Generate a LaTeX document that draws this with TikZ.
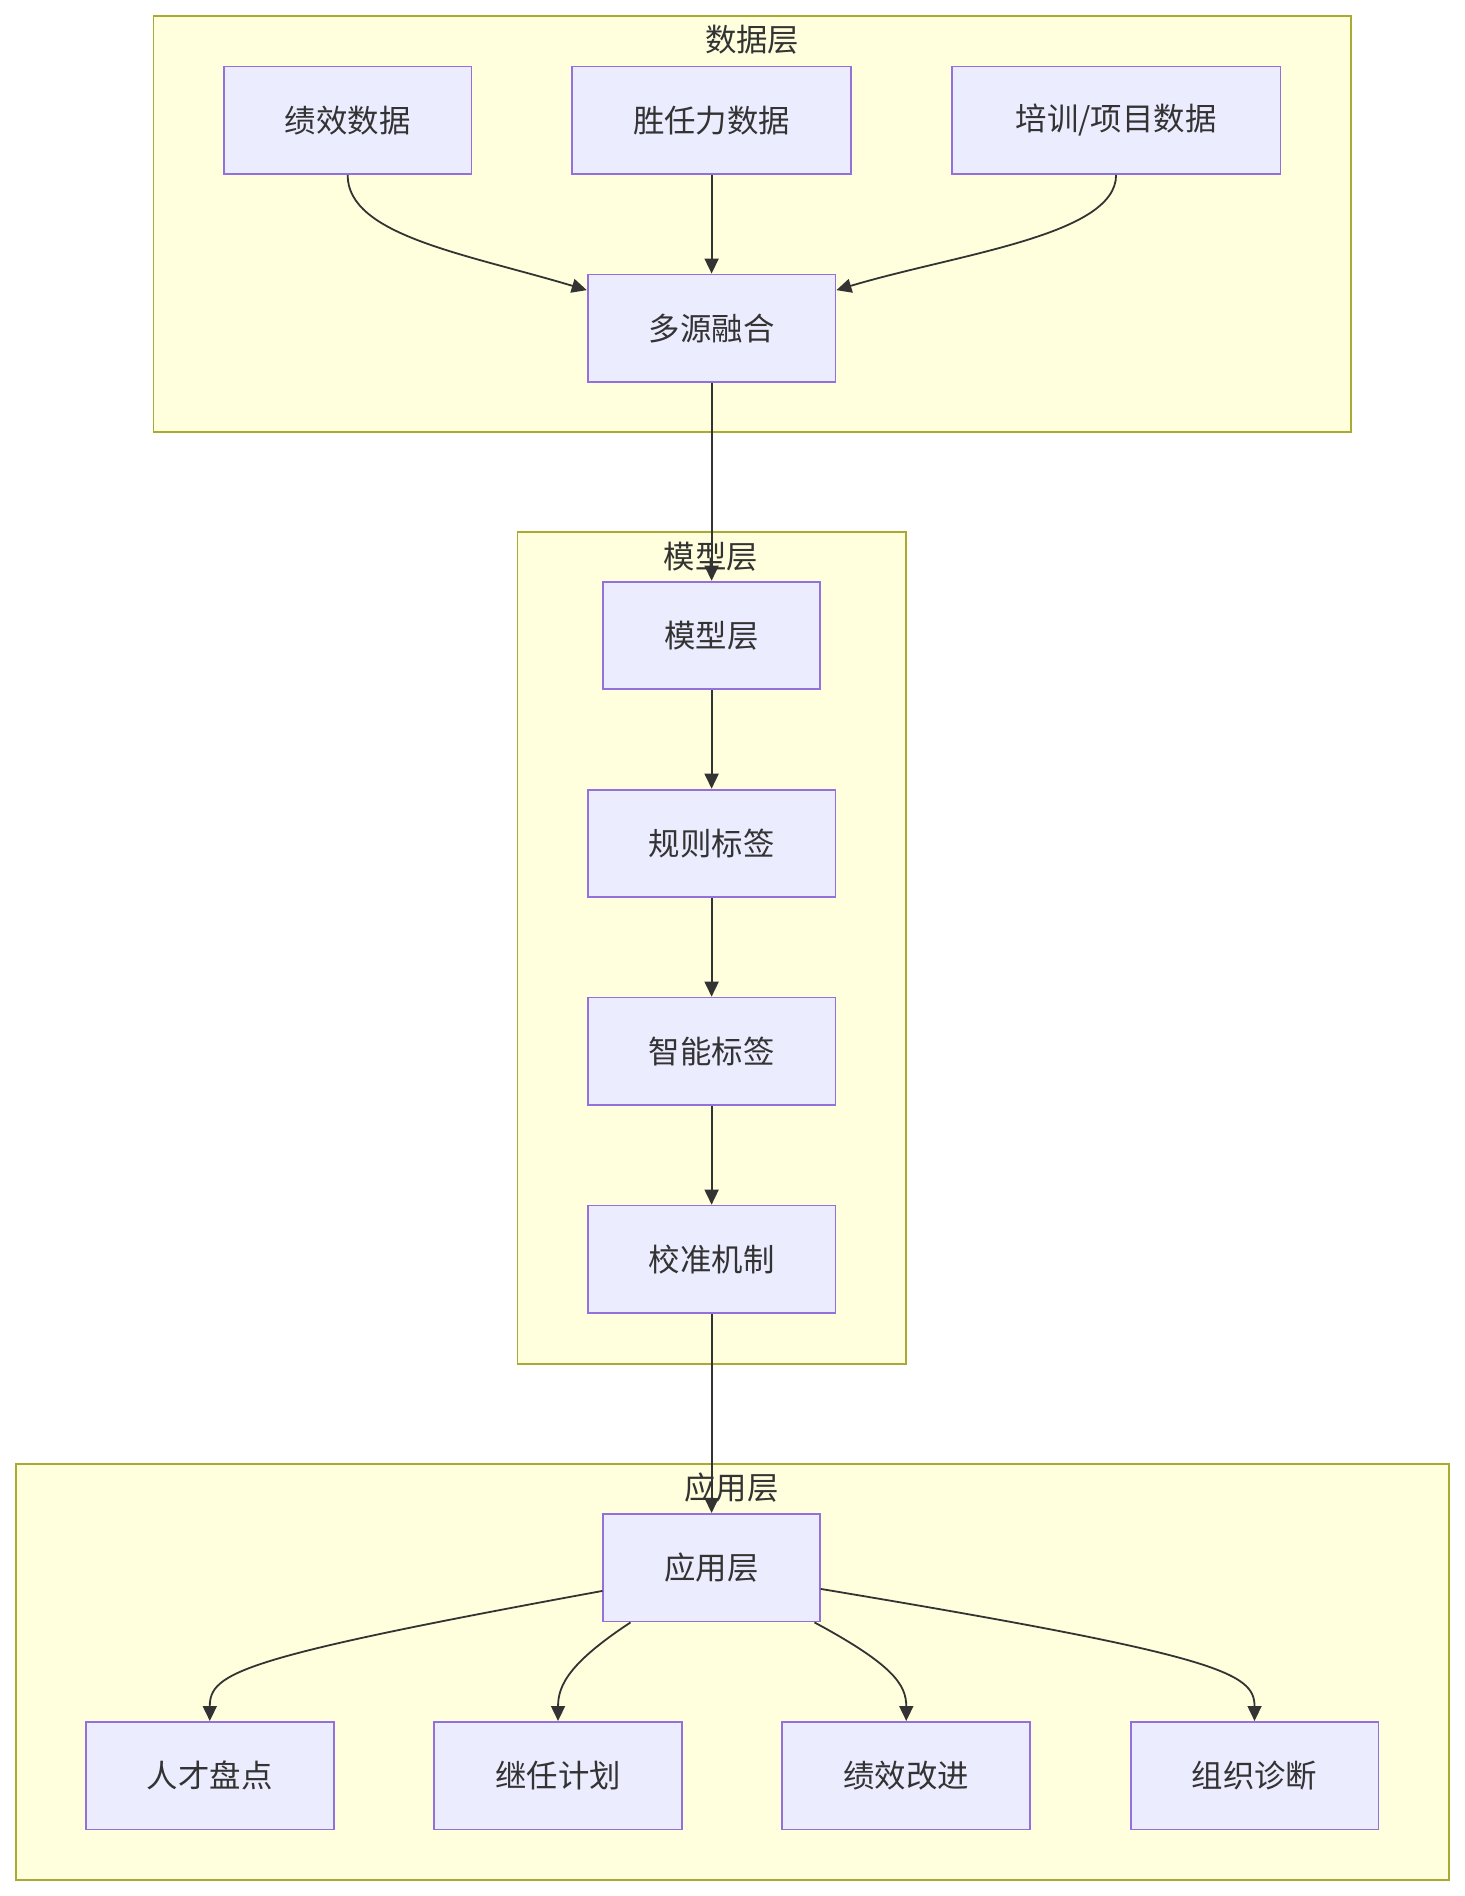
\documentclass[tikz,border=0pt]{standalone}
\usepackage{fontspec}
\newfontfamily\cjk{Noto Sans CJK SC}
\usetikzlibrary{arrows.meta}
\definecolor{clfill}{HTML}{FFFFDE}
\definecolor{cldraw}{HTML}{AAAA33}
\definecolor{ndfill}{HTML}{ECECFF}
\definecolor{nddraw}{HTML}{9370DB}
\definecolor{ink}{HTML}{333333}
\tikzset{
  cluster/.style={fill=clfill,draw=cldraw,line width=0.9pt},
  cltitle/.style={text=ink,font=\cjk\fontsize{15.7}{18}\selectfont,inner sep=0pt},
  box/.style={fill=ndfill,draw=nddraw,line width=0.9pt,text=ink,
    font=\cjk\fontsize{15.7}{18}\selectfont,minimum height=53.8pt,inner sep=0pt},
  wA/.style={box,minimum width=123.9pt},
  wB/.style={box,minimum width=139.6pt},
  wC/.style={box,minimum width=164.4pt},
  wD/.style={box,minimum width=108.2pt},
  link/.style={draw=ink,line width=0.9pt,-{Triangle[length=7.5pt,width=7pt]}}
}
\begin{document}
\begin{tikzpicture}[x=0.6045pt,y=-0.6045pt]
\useasboundingbox[fill=white] (0,0) rectangle (1211,1568);
% clusters
\draw[cluster] (127,13) rectangle (1117,357);
\node[cltitle] (t_data) at (622,33) {数据层};
\draw[cluster] (428,440) rectangle (749,1128);
\draw[cluster] (13,1211) rectangle (1198,1555);
% nodes
\node[wA] (a1) at (287.5,99.5) {绩效数据};
\node[wB] (a2) at (588.5,99.5) {胜任力数据};
\node[wC] (a3) at (923,99.5) {培训/项目数据};
\node[wA] (m) at (588.5,271.5) {多源融合};
\node[wD] (b0) at (588.5,525.5) {模型层};
\node[wA] (b1) at (588.5,697.5) {规则标签};
\node[wA] (b2) at (588.5,869.5) {智能标签};
\node[wA] (b3) at (588.5,1041.5) {校准机制};
\node[wD] (app) at (588.5,1296.5) {应用层};
\node[wA] (c1) at (173.5,1468.5) {人才盘点};
\node[wA] (c2) at (461.5,1468.5) {继任计划};
\node[wA] (c3) at (749.5,1468.5) {绩效改进};
\node[wA] (c4) at (1037.5,1468.5) {组织诊断};
\node[cltitle] (t_model) at (588,460) {模型层};
\node[cltitle] (t_app) at (605,1230) {应用层};
% edges
\draw[link] (a1.south) .. controls +(0,50) and +(-100,-30) .. (m.163);
\draw[link] (a2.south) -- (m.north);
\draw[link] (a3.south) .. controls +(0,50) and +(100,-30) .. (m.17);
\draw[link] (m.south) -- (b0.north);
\draw[link] (b0.south) -- (b1.north);
\draw[link] (b1.south) -- (b2.north);
\draw[link] (b2.south) -- (b3.north);
\draw[link] (b3.south) -- (app.north);
\draw[link] (app.192) .. controls +(-300,55) and +(0,-40) .. (c1.north);
\draw[link] (app.214) .. controls +(-50,33) and +(0,-30) .. (c2.north);
\draw[link] (app.332) .. controls +(65,35) and +(0,-30) .. (c3.north);
\draw[link] (app.349) .. controls +(330,55) and +(0,-40) .. (c4.north);
\end{tikzpicture}
\end{document}
